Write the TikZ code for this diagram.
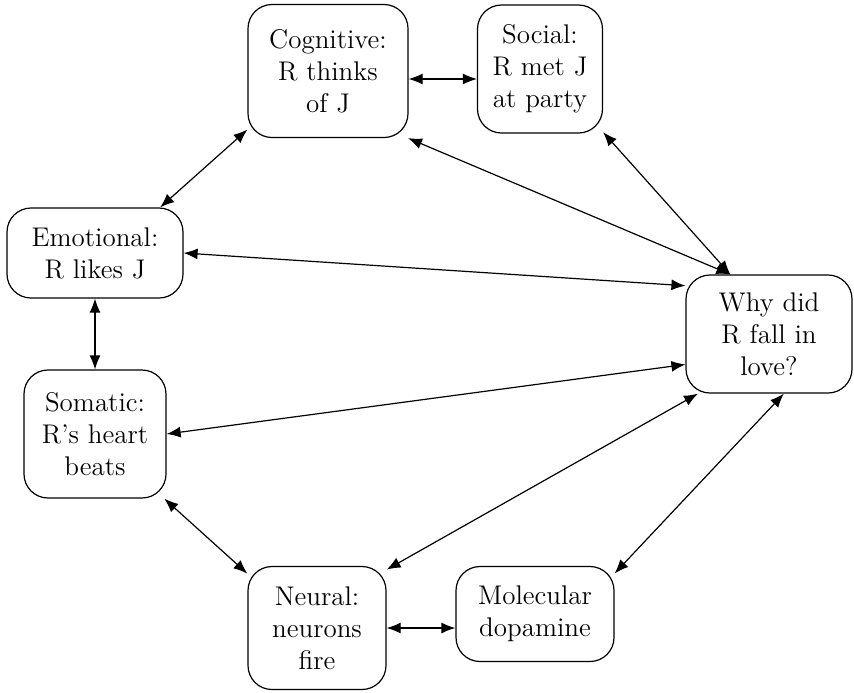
\documentclass[tikz,border=0pt]{standalone}
\usetikzlibrary{arrows.meta}
\begin{document}
\begin{tikzpicture}[x=0.5pt, y=0.5pt,
        block/.style={rectangle, rounded corners=12pt, draw, line width=0.6pt, align=center, inner sep=2pt, font=\fontsize{13.5}{16}\selectfont},
        line/.style={{Latex[length=7pt,width=5.5pt]}-{Latex[length=7pt,width=5.5pt]}, line width=0.6pt}]
        \useasboundingbox (0,0) rectangle (854,-692);

        % Nodes (Levels)
        \node[block, minimum width=80pt, minimum height=66.5pt] (Cog) at (328,-71) {Cognitive:\\R thinks\\of J};
        \node[block, minimum width=62.5pt, minimum height=64pt] (Soc) at (540,-69) {Social:\\R met J\\at party};
        \node[block, minimum width=88pt, minimum height=45pt] (Emo) at (95,-253) {Emotional:\\R likes J};
        \node[block, minimum width=71pt, minimum height=64pt] (Som) at (95,-434) {Somatic:\\R's heart\\beats};
        \node[block, minimum width=83pt, minimum height=59pt] (Why) at (769,-334) {Why did\\R fall in\\love?};
        \node[block, minimum width=69pt, minimum height=61.5pt] (Neu) at (317,-628) {Neural:\\neurons\\fire};
        \node[block, minimum width=79pt, minimum height=47.5pt] (Mol) at (535,-614) {Molecular\\dopamine};

        % Arcs (Links)
        \draw[line] (Cog.east |- 0,-79) -- (Soc.west |- 0,-79);
        \draw[line] (Emo.35) -- (Cog.216);
        \draw[line] (Emo.south) -- (Som.north);
        \draw[line] (Som.-43) -- (Neu.142);
        \draw[line] (Neu.east) -- (Mol.west |- Neu.east);
        \draw[line] (Cog.-40) -- (Why.123);
        \draw[line] (Soc.-45) -- (Why.123);
        \draw[line] (Emo.east) -- (Why.150);
        \draw[line] (Som.east) -- (Why.200);
        \draw[line] (Neu.40) -- (Why.220);
        \draw[line] (Mol.27) -- (Why.-76);
    \end{tikzpicture}
\end{document}
